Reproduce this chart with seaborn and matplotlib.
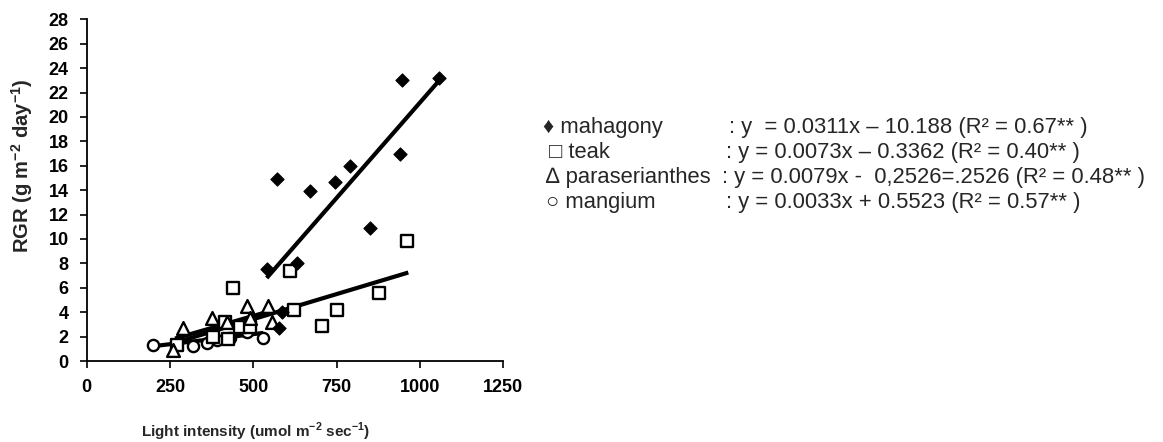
import matplotlib
matplotlib.use("Agg")
import matplotlib.pyplot as plt
import seaborn as sns
import pandas as pd

# ---- data ----
mahagony_x = [542, 572, 578, 585, 630, 670, 746, 790, 850, 939, 945, 1057]
mahagony_y = [7.5, 14.9, 2.7, 4.0, 8.0, 13.9, 14.7, 16.0, 10.9, 17.0, 23.0, 23.2]

teak_x = [270, 380, 415, 425, 440, 460, 490, 610, 622, 705, 750, 878, 962]
teak_y = [1.3, 2.0, 3.2, 1.8, 6.0, 2.8, 2.8, 7.4, 4.2, 2.9, 4.2, 5.6, 9.8]

para_x = [260, 290, 375, 420, 480, 490, 545, 555]
para_y = [0.9, 2.7, 3.5, 3.2, 4.5, 3.5, 4.5, 3.2]

mangium_x = [200, 318, 360, 390, 430, 460, 480, 530]
mangium_y = [1.35, 1.2, 1.5, 1.7, 1.9, 2.7, 2.4, 1.85]

# trend line end points
mahagony_line_x = [540, 1055]
mahagony_line_y = [6.8, 22.9]
teak_line_x = [265, 965]
teak_line_y = [1.5, 7.25]
para_line_x = [265, 560]
para_line_y = [1.84, 4.17]
mangium_line_x = [205, 530]
mangium_line_y = [1.23, 2.30]

x_ticks = [0, 250, 500, 750, 1000, 1250]
y_ticks = list(range(0, 29, 2))

legend_names = ["\u2666 mahagony", "\u25a1 teak", "\u2206 paraserianthes", "\u25cb mangium"]
legend_eqs = [
    ": y  = 0.0311x \u2013 10.188 (R\u00b2 = 0.67** )",
    ": y = 0.0073x \u2013 0.3362 (R\u00b2 = 0.40** )",
    ": y = 0.0079x -  0,2526=.2526 (R\u00b2 = 0.48** )",
    ": y = 0.0033x + 0.5523 (R\u00b2 = 0.57** )",
]

x_label = "Light intensity (umol m$^{\\mathregular{-2}}$ sec$^{\\mathregular{-1}}$)"
y_label = "RGR (g m$^{\\mathregular{-2}}$ day$^{\\mathregular{-1}}$)"

# ---- style ----
sns.set_style("ticks")
plt.rcParams["font.family"] = ["Liberation Sans", "DejaVu Sans"]
plt.rcParams["mathtext.fontset"] = "custom"
plt.rcParams["mathtext.rm"] = "Liberation Sans"
plt.rcParams["mathtext.bf"] = "Liberation Sans:bold"

W, H = 1163, 442
fig = plt.figure(figsize=(W / 100, H / 100), dpi=100)
ax = fig.add_axes([86.7 / W, 1 - 361 / H, (503.3 - 86.7) / W, (361 - 19.3) / H])

def df(x, y):
    return pd.DataFrame({"x": x, "y": y})

# trend lines
for lx, ly in [(mahagony_line_x, mahagony_line_y), (teak_line_x, teak_line_y),
               (para_line_x, para_line_y), (mangium_line_x, mangium_line_y)]:
    sns.lineplot(data=df(lx, ly), x="x", y="y", ax=ax, color="black", lw=3.0,
                 solid_capstyle="butt", zorder=2)

# scatter points
sns.scatterplot(data=df(mangium_x, mangium_y), x="x", y="y", ax=ax, marker="o", s=65,
                facecolor="white", edgecolor="black", linewidth=1.7, zorder=3)
sns.scatterplot(data=df(teak_x, teak_y), x="x", y="y", ax=ax, marker="s", s=75,
                facecolor="white", edgecolor="black", linewidth=1.7, zorder=3)
sns.scatterplot(data=df(para_x, para_y), x="x", y="y", ax=ax, marker="^", s=85,
                facecolor="white", edgecolor="black", linewidth=1.7, zorder=3)
sns.scatterplot(data=df(mahagony_x, mahagony_y), x="x", y="y", ax=ax, marker="D", s=45,
                color="black", edgecolor="black", linewidth=0.8, zorder=4)

ax.set_xlim(0, 1250)
ax.set_ylim(0, 28)
ax.set_xticks(x_ticks)
ax.set_yticks(y_ticks)
ax.tick_params(direction="out", length=5, width=1.2, colors="black", labelsize=13, pad=8)
for lab in ax.get_xticklabels() + ax.get_yticklabels():
    lab.set_fontweight("bold")
sns.despine(ax=ax)
for sp in ["left", "bottom"]:
    ax.spines[sp].set_linewidth(1.3)
    ax.spines[sp].set_color("black")
ax.grid(False)

ax.set_xlabel(x_label, fontsize=11, fontweight="bold")
ax.xaxis.label.set_va("center")
ax.xaxis.set_label_coords((256 - 86.7) / (503.3 - 86.7), (361 - 432) / (361 - 19.3))
ax.set_ylabel(y_label, fontsize=14.5, fontweight="bold")
ax.yaxis.label.set_va("center")
ax.yaxis.set_label_coords((22.5 - 86.7) / (503.3 - 86.7), (361 - 166) / (361 - 19.3))

# legend text block
rows_y = [127.0, 152.3, 177.6, 202.9]
name_x = [543, 549, 546, 546]
colon_x = [729, 726, 722, 726]
for i in range(4):
    fig.text(name_x[i] / W, 1 - rows_y[i] / H, legend_names[i], fontsize=15.8,
             va="center", ha="left")
    fig.text(colon_x[i] / W, 1 - rows_y[i] / H, legend_eqs[i], fontsize=15.8,
             va="center", ha="left")

fig.savefig("out.png", dpi=100, facecolor="white")
